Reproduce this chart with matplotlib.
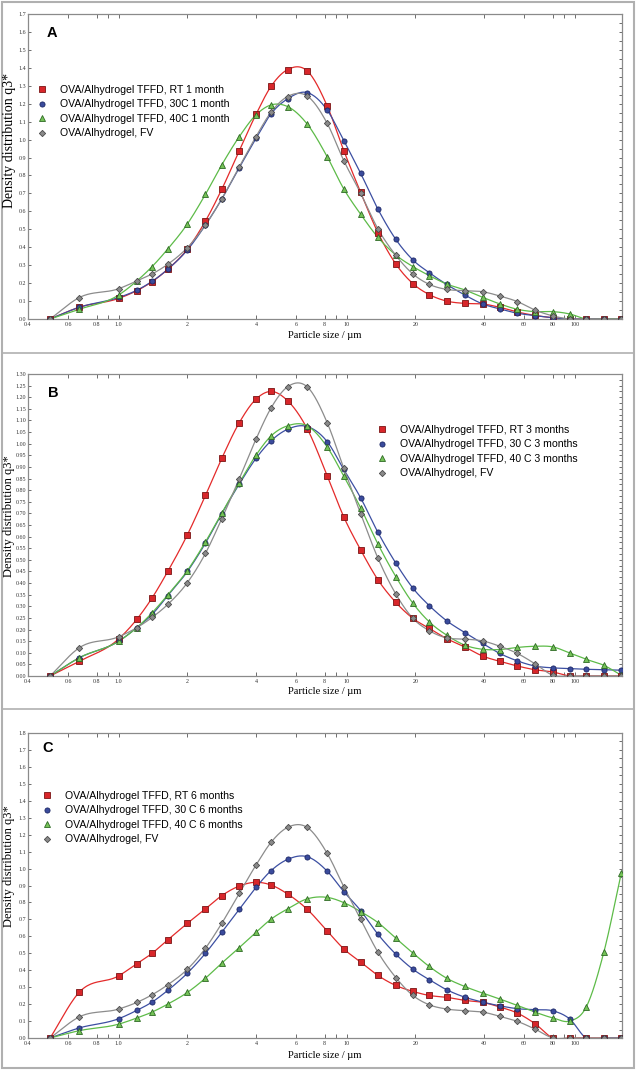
import numpy as np
import matplotlib
matplotlib.use("Agg")
import matplotlib.pyplot as plt
from matplotlib.lines import Line2D
from matplotlib.patches import Rectangle
from matplotlib.ticker import FixedLocator, FixedFormatter, MultipleLocator

# particle size classes (um), shared by all curves
sizes = [0.5, 0.67, 1.0, 1.2, 1.4, 1.64, 2.0, 2.4, 2.83, 3.38, 4.0, 4.65, 5.5, 6.7,
         8.2, 9.7, 11.5, 13.7, 16.4, 19.5, 23, 27.4, 32.9, 39.4, 46.9, 56, 66.8,
         80.3, 95, 112, 134, 160]

# panel A - 1 month
rt_1m = [0, 0.065, 0.115, 0.158, 0.208, 0.277, 0.39, 0.546, 0.723, 0.939, 1.141, 1.296,
         1.39, 1.383, 1.188, 0.939, 0.706, 0.481, 0.307, 0.197, 0.136, 0.10, 0.087, 0.084,
         0.065, 0.039, 0.02, 0.007, 0, 0, 0, 0]
c30_1m = [0, 0.065, 0.12, 0.16, 0.21, 0.277, 0.385, 0.524, 0.669, 0.844, 1.007, 1.143,
          1.227, 1.262, 1.165, 0.994, 0.812, 0.612, 0.444, 0.329, 0.258, 0.193, 0.134,
          0.084, 0.056, 0.032, 0.019, 0.007, 0, 0, 0, 0]
c40_1m = [0, 0.054, 0.134, 0.212, 0.292, 0.39, 0.53, 0.695, 0.859, 1.017, 1.138, 1.193,
          1.184, 1.087, 0.905, 0.725, 0.584, 0.455, 0.357, 0.292, 0.242, 0.195, 0.162,
          0.121, 0.084, 0.054, 0.041, 0.041, 0.028, 0, 0, 0]
fv_a = [0, 0.119, 0.169, 0.212, 0.251, 0.305, 0.398, 0.524, 0.669, 0.849, 1.017, 1.152,
        1.24, 1.243, 1.091, 0.883, 0.701, 0.502, 0.355, 0.251, 0.193, 0.165, 0.158, 0.152,
        0.128, 0.097, 0.05, 0.017, 0, 0, 0, 0]

# panel B - 3 months
rt_3m = [0, 0.063, 0.16, 0.244, 0.336, 0.45, 0.608, 0.777, 0.937, 1.091, 1.192, 1.225,
         1.185, 1.065, 0.863, 0.685, 0.543, 0.414, 0.317, 0.248, 0.205, 0.161, 0.125,
         0.086, 0.063, 0.043, 0.027, 0.017, 0, 0, 0, 0]
c30_3m = [0, 0.078, 0.15, 0.208, 0.265, 0.346, 0.45, 0.572, 0.699, 0.827, 0.937, 1.012,
          1.062, 1.074, 1.009, 0.889, 0.767, 0.618, 0.486, 0.378, 0.303, 0.238, 0.187,
          0.14, 0.097, 0.065, 0.043, 0.035, 0.032, 0.029, 0.027, 0.025]
c40_3m = [0, 0.078, 0.15, 0.208, 0.272, 0.349, 0.454, 0.577, 0.702, 0.832, 0.951, 1.033,
          1.077, 1.077, 0.986, 0.86, 0.724, 0.568, 0.428, 0.313, 0.233, 0.176, 0.133,
          0.115, 0.114, 0.123, 0.128, 0.125, 0.099, 0.072, 0.046, 0.003]
fv_b = [0, 0.121, 0.169, 0.208, 0.252, 0.308, 0.402, 0.528, 0.677, 0.85, 1.02, 1.153,
        1.245, 1.245, 1.091, 0.894, 0.699, 0.507, 0.353, 0.248, 0.195, 0.164, 0.159,
        0.151, 0.128, 0.097, 0.053, 0.003, 0, 0, 0, 0]

# panel C - 6 months
rt_6m = [0, 0.269, 0.367, 0.438, 0.5, 0.579, 0.677, 0.762, 0.84, 0.897, 0.919, 0.903,
         0.85, 0.76, 0.632, 0.526, 0.448, 0.369, 0.31, 0.275, 0.251, 0.24, 0.222, 0.21,
         0.183, 0.147, 0.085, 0, 0, 0, 0, 0]
c30_6m = [0, 0.059, 0.114, 0.163, 0.212, 0.281, 0.383, 0.5, 0.624, 0.76, 0.889, 0.987,
          1.054, 1.07, 0.985, 0.864, 0.752, 0.612, 0.495, 0.406, 0.344, 0.285, 0.241,
          0.212, 0.19, 0.173, 0.167, 0.16, 0.112, 0, 0, 0]
c40_6m = [0, 0.043, 0.082, 0.118, 0.153, 0.2, 0.269, 0.353, 0.442, 0.534, 0.624, 0.701,
          0.762, 0.821, 0.83, 0.799, 0.746, 0.681, 0.589, 0.501, 0.422, 0.353, 0.304,
          0.265, 0.23, 0.192, 0.153, 0.118, 0.1, 0.181, 0.506, 0.976]
fv_c = [0, 0.124, 0.171, 0.21, 0.255, 0.314, 0.406, 0.53, 0.677, 0.854, 1.021, 1.154,
        1.243, 1.243, 1.09, 0.893, 0.701, 0.506, 0.357, 0.251, 0.196, 0.171, 0.161,
        0.153, 0.128, 0.098, 0.053, 0, 0, 0, 0, 0]

labels_a = ["OVA/Alhydrogel TFFD, RT 1 month", "OVA/Alhydrogel TFFD, 30C 1 month",
            "OVA/Alhydrogel TFFD, 40C 1 month", "OVA/Alhydrogel, FV"]
labels_b = ["OVA/Alhydrogel TFFD, RT 3 months", "OVA/Alhydrogel TFFD, 30 C 3 months",
            "OVA/Alhydrogel TFFD, 40 C 3 months", "OVA/Alhydrogel, FV"]
labels_c = ["OVA/Alhydrogel TFFD, RT 6 months", "OVA/Alhydrogel TFFD, 30 C 6 months",
            "OVA/Alhydrogel TFFD, 40 C 6 months", "OVA/Alhydrogel, FV"]

x_ticks = [0.4, 0.6, 0.8, 1.0, 2, 4, 6, 8, 10, 20, 40, 60, 80, 100]
x_ticklabels = ["0.4", "0.6", "0.8", "1.0", "2", "4", "6", "8", "10", "20", "40", "60", "80", "100"]

# style per series: line colour, marker, face, edge, size
styles = [
    ("#e42a2a", "s", "#d8262a", "#7a1414", 4.0),
    ("#3c4fa2", "o", "#3a4b9c", "#1c2766", 3.7),
    ("#5dbb48", "^", "#74c257", "#2e6a25", 4.2),
    ("#8c8c8c", "D", "#8a8a8a", "#4a4a4a", 3.2),
]

W, H = 638, 1070


def smooth(x, y, n=24):
    # cubic hermite through the points in log-x, for the drawn line only
    lx = np.log10(np.asarray(x, float))
    y = np.asarray(y, float)
    m = np.gradient(y, lx)
    xs, ys = [], []
    for i in range(len(lx) - 1):
        h = lx[i + 1] - lx[i]
        t = np.linspace(0, 1, n, endpoint=False)
        h00 = 2 * t**3 - 3 * t**2 + 1
        h10 = t**3 - 2 * t**2 + t
        h01 = -2 * t**3 + 3 * t**2
        h11 = t**3 - t**2
        ys.append(h00 * y[i] + h10 * h * m[i] + h01 * y[i + 1] + h11 * h * m[i + 1])
        xs.append(lx[i] + t * h)
    xs.append([lx[-1]])
    ys.append([y[-1]])
    return 10 ** np.concatenate(xs), np.concatenate(ys)


def fig_box(left, top, right, bottom):
    return [left / W, 1 - bottom / H, (right - left) / W, (bottom - top) / H]


fig = plt.figure(figsize=(W / 100, H / 100), dpi=100)

panels = [
    dict(box=(28, 14, 622, 319), series=[rt_1m, c30_1m, c40_1m, fv_a], labels=labels_a,
         ymax=1.7, ystep=0.1, fmt="{:.1f}", letter="A", letter_xy=(52, 33),
         leg_xy=(43, 90), ylab_y=140, ylab_fs=10, xlab_y=335),
    dict(box=(28, 374, 622, 676), series=[rt_3m, c30_3m, c40_3m, fv_b], labels=labels_b,
         ymax=1.30, ystep=0.05, fmt="{:.2f}", letter="B", letter_xy=(53, 393),
         leg_xy=(383, 430), ylab_y=516, ylab_fs=9, xlab_y=692),
    dict(box=(28, 733, 622, 1038), series=[rt_6m, c30_6m, c40_6m, fv_c], labels=labels_c,
         ymax=1.8, ystep=0.1, fmt="{:.1f}", letter="C", letter_xy=(48, 748),
         leg_xy=(48, 796), ylab_y=866, ylab_fs=9, xlab_y=1055),
]

for p in panels:
    ax = fig.add_axes(fig_box(*p["box"]))
    for data, (lc, mk, fc, ec, ms) in zip(p["series"], styles):
        sx, sy = smooth(sizes, data)
        ax.plot(sx, sy, color=lc, lw=0.9, zorder=2)
        ax.plot(sizes, data, linestyle="none", marker=mk, markersize=ms,
                markerfacecolor=fc, markeredgecolor=ec, markeredgewidth=0.6, zorder=3)

    ax.set_xscale("log")
    ax.set_xlim(0.4, 161)
    ax.set_ylim(0, p["ymax"])
    ax.xaxis.set_major_locator(FixedLocator(x_ticks))
    ax.xaxis.set_major_formatter(FixedFormatter(x_ticklabels))
    ax.xaxis.set_minor_locator(FixedLocator([0.9, 9, 90]))
    yt = np.round(np.arange(0, p["ymax"] + 1e-9, p["ystep"]), 3)
    ax.yaxis.set_major_locator(FixedLocator(yt))
    ax.yaxis.set_major_formatter(FixedFormatter([p["fmt"].format(v) for v in yt]))
    ax.yaxis.set_minor_locator(MultipleLocator(p["ystep"] / 2))

    ax.tick_params(axis="x", which="both", direction="in", top=True, bottom=True,
                   length=3, width=0.6, color="#555555", pad=2, labelcolor="#333333")
    ax.tick_params(axis="y", which="major", direction="in", left=True, right=True,
                   length=2.5, width=0.6, color="#555555", pad=1.5, labelcolor="#333333")
    ax.tick_params(axis="y", which="minor", direction="in", left=False, right=True,
                   length=2, width=0.6, color="#555555")
    for lab in ax.get_xticklabels() + ax.get_yticklabels():
        lab.set_fontfamily("Liberation Serif")
        lab.set_fontsize(4.3)
    for sp in ax.spines.values():
        sp.set_color("#8a8a8a")
        sp.set_linewidth(0.9)

    # legend, markers only
    handles = [Line2D([], [], linestyle="none", marker=mk, markersize=ms, markerfacecolor=fc,
                      markeredgecolor=ec, markeredgewidth=0.6)
               for (lc, mk, fc, ec, ms) in styles]
    lx, ly = p["leg_xy"]
    ax.legend(handles, p["labels"], loc="upper left",
              bbox_to_anchor=((lx - 6) / W, 1 - (ly - 5) / H), bbox_transform=fig.transFigure,
              frameon=False, borderpad=0, borderaxespad=0, handlelength=1.0,
              handletextpad=1.2, labelspacing=0.42,
              prop=dict(family="Liberation Sans", size=7.6))

    lx0, ly0 = p["letter_xy"]
    fig.text(lx0 / W, 1 - ly0 / H, p["letter"], ha="center", va="center",
             fontsize=10.5, fontweight="bold", family="Liberation Sans")
    fig.text(9.5 / W, 1 - p["ylab_y"] / H, "Density distribution q3*", rotation=90,
             ha="center", va="center", fontsize=p["ylab_fs"], family="Liberation Serif")
    fig.text(325 / W, 1 - p["xlab_y"] / H, "Particle size / µm", ha="center", va="center",
             fontsize=7.6, family="Liberation Serif")

# panel frames
fig.add_artist(Rectangle((2 / W, 2 / H), 632 / W, 1066 / H, transform=fig.transFigure,
                         fill=False, edgecolor="#b0b0b0", linewidth=1.5))
for yy in (353, 709):
    fig.add_artist(Line2D([2 / W, 634 / W], [1 - yy / H, 1 - yy / H],
                          transform=fig.transFigure, color="#b0b0b0", linewidth=1.2))

fig.savefig("out.png", dpi=100)
